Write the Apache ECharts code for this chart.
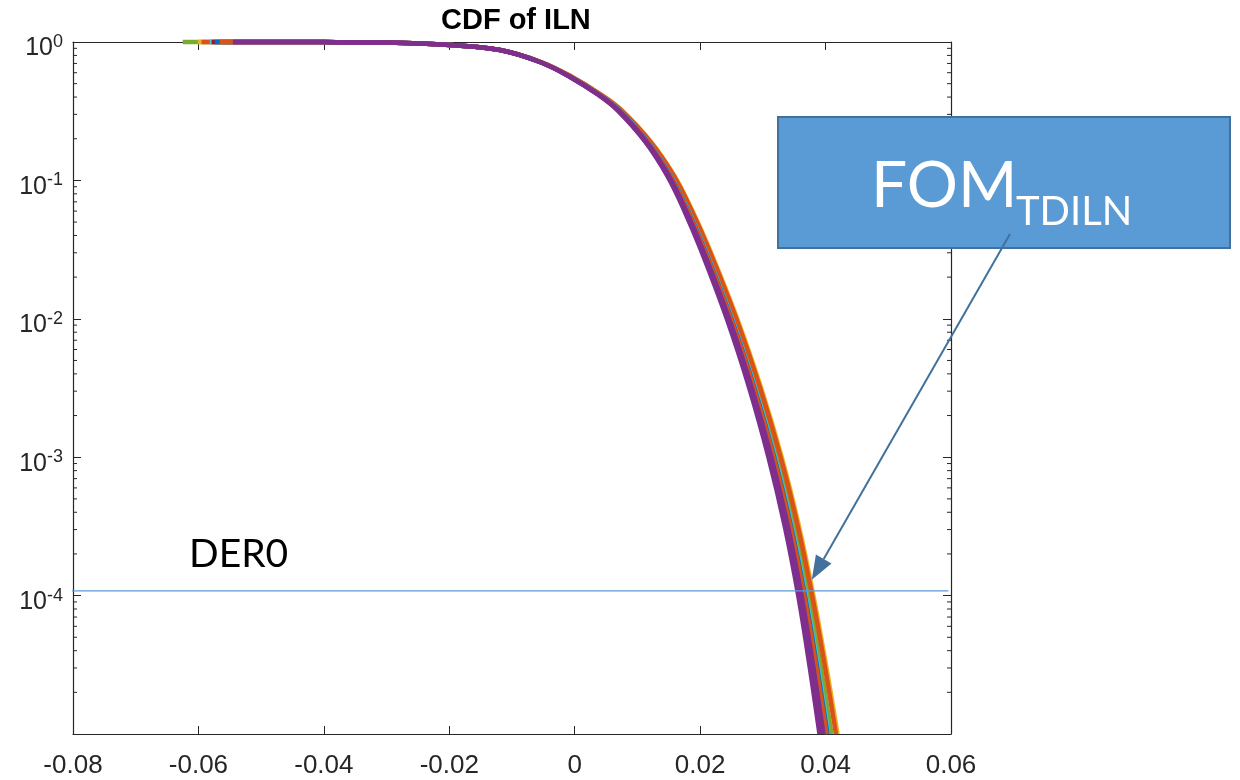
<!DOCTYPE html>
<html><head><meta charset="utf-8">
<script src="https://cdn.jsdelivr.net/npm/echarts@6/dist/echarts.min.js"></script>
<style>html,body{margin:0;padding:0;background:#fff}#c{width:1240px;height:780px}</style>
</head><body><div id="c"></div>
<script>
// shared probability levels (y) for all curves
const yLevels = [1, 0.998, 0.99, 0.951, 0.875, 0.717, 0.559, 0.414, 0.323, 0.189, 0.109, 0.0611, 0.0314, 0.01, 0.00316, 0.001, 0.000318, 0.0001, 0.0000315, 0.00001];
// x (ILN) values of each curve at those levels
const xGreen   = [-0.0625, -0.040, -0.030, -0.0199, -0.01188, -0.00545, -0.00052, 0.00415, 0.00721, 0.01189, 0.01545, 0.01828, 0.02108, 0.02536, 0.02909, 0.0323, 0.03498, 0.03725, 0.03918, 0.04094];
const xYellow  = [-0.0601, -0.040, -0.030, -0.0199, -0.01186, -0.00537, -0.00039, 0.00433, 0.00744, 0.0122, 0.01584, 0.01871, 0.02157, 0.02592, 0.02972, 0.03301, 0.03575, 0.03806, 0.04007, 0.04191];
const xOrange1 = [-0.0595, -0.040, -0.030, -0.0199, -0.01186, -0.00539, -0.00042, 0.00428, 0.00738, 0.01212, 0.01574, 0.0186, 0.02144, 0.02578, 0.02957, 0.03283, 0.03556, 0.03786, 0.03985, 0.04166];
const xCyan    = [-0.0582, -0.040, -0.030, -0.0199, -0.0119, -0.00549, -0.00058, 0.00406, 0.0071, 0.01174, 0.01526, 0.01806, 0.02084, 0.02508, 0.02877, 0.03194, 0.0346, 0.03684, 0.03873, 0.04045];
const xRed     = [-0.0579, -0.040, -0.030, -0.0199, -0.01193, -0.00558, -0.00073, 0.00385, 0.00683, 0.01138, 0.01482, 0.01755, 0.02027, 0.02443, 0.02803, 0.03112, 0.03372, 0.03589, 0.0377, 0.03933];
const xBlue    = [-0.0574, -0.040, -0.030, -0.0199, -0.0119, -0.0055, -0.0006, 0.00403, 0.00706, 0.01169, 0.0152, 0.01799, 0.02076, 0.02499, 0.02867, 0.03183, 0.03448, 0.03671, 0.03859, 0.0403];
const xOrange2 = [-0.0566, -0.040, -0.030, -0.0199, -0.0119, -0.00551, -0.00062, 0.004, 0.00702, 0.01164, 0.01514, 0.01792, 0.02068, 0.0249, 0.02857, 0.03172, 0.03436, 0.03658, 0.03845, 0.04015];
const xPurpleB = [-0.0545, -0.040, -0.030, -0.0199, -0.01192, -0.00555, -0.00068, 0.00391, 0.00691, 0.01149, 0.01495, 0.0177, 0.02044, 0.02462, 0.02825, 0.03136, 0.03398, 0.03617, 0.038, 0.03966];
const xPurpleA = [-0.0545, -0.040, -0.030, -0.0199, -0.01193, -0.0056, -0.00077, 0.00379, 0.00676, 0.01129, 0.0147, 0.01742, 0.02012, 0.02425, 0.02783, 0.03089, 0.03348, 0.03564, 0.03742, 0.03903];
// DER0 level and extent of its line
const derLevel = 0.000108;
const derLine = [-0.0812, 0.0596];
// minor log ticks
const minorTicks = [2e-5,3e-5,4e-5,5e-5,6e-5,7e-5,8e-5,9e-5,2e-4,3e-4,4e-4,5e-4,6e-4,7e-4,8e-4,9e-4,2e-3,3e-3,4e-3,5e-3,6e-3,7e-3,8e-3,9e-3,0.02,0.03,0.04,0.05,0.06,0.07,0.08,0.09,0.2,0.3,0.4,0.5,0.6,0.7,0.8,0.9];
const xMin = -0.08, xMax = 0.06, xStep = 0.02;

const curves = [
  {x: xGreen, c: '#77AC30'}, {x: xYellow, c: '#EDB120'}, {x: xOrange1, c: '#D95319'},
  {x: xCyan, c: '#4DBEEE'}, {x: xRed, c: '#A2142F'}, {x: xBlue, c: '#0072BD'},
  {x: xOrange2, c: '#D95319'}, {x: xPurpleB, c: '#7E2F8E'}, {x: xPurpleA, c: '#7E2F8E'}
];
const axisCol = '#262626';
const chart = echarts.init(document.getElementById('c'));
const series = curves.map(cv => ({
  type: 'line', symbol: 'none', clip: false, smooth: 0.4, silent: true,
  lineStyle: {color: cv.c, width: 4.5},
  data: cv.x.map((x, i) => [x, yLevels[i]])
}));
series.push({
  type: 'line', symbol: 'none', clip: false, silent: true,
  lineStyle: {color: '#5B9BD5', width: 1.3},
  data: derLine.map(x => [x, derLevel])
});
series.push({
  type: 'custom', silent: true, clip: false,
  data: minorTicks.map(v => [0, v]),
  renderItem: (params, api) => {
    const v = api.value(1);
    const pL = api.coord([xMin, v]), pR = api.coord([xMax, v]);
    const st = {stroke: axisCol, lineWidth: 1};
    return {type: 'group', children: [
      {type: 'line', shape: {x1: pL[0], y1: pL[1], x2: pL[0] + 4, y2: pL[1]}, style: st},
      {type: 'line', shape: {x1: pR[0] - 4, y1: pR[1], x2: pR[0], y2: pR[1]}, style: st}
    ]};
  }
});
const xLab = v => Math.abs(v) < 1e-9 ? '0' : v.toFixed(2);
const baseX = {
  type: 'value', min: xMin, max: xMax, interval: xStep,
  axisLine: {onZero: false, lineStyle: {color: axisCol, width: 1.2}},
  axisTick: {inside: true, length: 8, lineStyle: {color: axisCol, width: 1}},
  splitLine: {show: false}
};
const baseY = {
  type: 'log', logBase: 10, min: 1e-5, max: 1, splitNumber: 5,
  axisLine: {onZero: false, lineStyle: {color: axisCol, width: 1.2}},
  axisTick: {inside: true, length: 8, lineStyle: {color: axisCol, width: 1}},
  splitLine: {show: false}
};
chart.setOption({
  animation: false,
  backgroundColor: '#fff',
  title: {text: 'CDF of ILN', left: 441, top: 6, padding: 0,
    textStyle: {fontFamily: 'Liberation Sans', fontWeight: 'bold', fontSize: 29, color: '#000'}},
  grid: {left: 73, right: 289, top: 42, bottom: 46},
  xAxis: [
    Object.assign({}, baseX, {position: 'bottom',
      axisLabel: {fontFamily: 'Liberation Sans', fontSize: 26, color: axisCol, margin: 19, formatter: xLab}}),
    Object.assign({}, baseX, {position: 'top', axisLabel: {show: false}})
  ],
  yAxis: [
    Object.assign({}, baseY, {position: 'left',
      axisLabel: {margin: 10, color: axisCol,
        formatter: v => { const e = Math.round(Math.log10(v)); return e === -5 ? '' : '{b|10}{s|' + e + '}'; },
        rich: {
          b: {fontFamily: 'Liberation Sans', fontSize: 25, color: axisCol, padding: [13, 0, 0, 0]},
          s: {fontFamily: 'Liberation Sans', fontSize: 18, color: axisCol, verticalAlign: 'top', padding: [10, 0, 0, 0]}
        }}}),
    Object.assign({}, baseY, {position: 'right', axisLabel: {show: false}})
  ],
  series: series
});

// annotations
const tip = chart.convertToPixel({xAxisIndex: 0, yAxisIndex: 0}, [0.0378, 0.00013]);
const tail = [1010, 234];
const dx = tip[0] - tail[0], dy = tip[1] - tail[1], L = Math.hypot(dx, dy);
const ux = dx / L, uy = dy / L, hl = 24, hw = 9;
const bx = tip[0] - ux * hl, by = tip[1] - uy * hl;
chart.setOption({
  graphic: [
    {type: 'rect', shape: {x: 778, y: 117, width: 452, height: 131},
      style: {fill: '#5B9BD5', stroke: '#41719C', lineWidth: 2}, z: 10},
    {type: 'text', x: 871, y: 186, z: 11,
      style: {text: 'FOM', fontFamily: 'Lato', fontSize: 64, fill: '#fff', verticalAlign: 'middle'}},
    {type: 'text', x: 1016, y: 212, z: 11,
      style: {text: 'TDILN', fontFamily: 'Lato', fontSize: 40, fill: '#fff', verticalAlign: 'middle'}},
    {type: 'text', x: 189, y: 554, z: 11,
      style: {text: 'DER0', fontFamily: 'Lato', fontSize: 39, fill: '#000', verticalAlign: 'middle'}},
    {type: 'line', z: 12, shape: {x1: tail[0], y1: tail[1], x2: bx, y2: by},
      style: {stroke: '#41719C', lineWidth: 2}},
    {type: 'polygon', z: 12, shape: {points: [tip, [bx - uy * hw, by + ux * hw], [bx + uy * hw, by - ux * hw]]},
      style: {fill: '#41719C'}}
  ]
});
</script></body></html>
